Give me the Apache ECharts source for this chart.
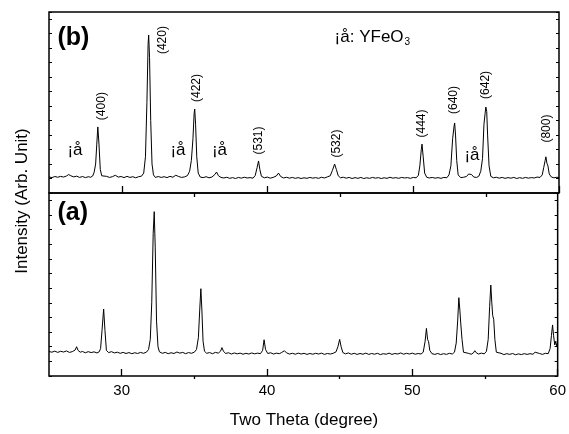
<!DOCTYPE html>
<html>
<head>
<meta charset="utf-8">
<script src="https://cdn.jsdelivr.net/npm/echarts@6/dist/echarts.min.js"></script>
<style>html,body{margin:0;padding:0;background:#fff}#c{width:569px;height:434px}</style>
</head>
<body>
<div id="c"></div>
<script>
// Panel (b): [2theta, intensity]
const patternB = [[25.0,8.9],[25.2,8.5],[25.4,9.1],[25.6,8.7],[25.8,9.2],[26.0,8.8],[26.2,9.4],[26.35,10.2],[26.5,9.5],[26.7,8.9],[26.9,9.3],[27.1,8.6],[27.3,9.1],[27.5,8.5],[27.7,9.0],[27.85,8.7],[28.0,9.4],[28.1,11.5],[28.2,16],[28.28,27],[28.35,36.5],[28.43,27],[28.52,13],[28.62,9.5],[28.75,8.6],[28.95,9.2],[29.15,8.6],[29.35,9.0],[29.55,9.8],[29.75,8.8],[29.95,9.1],[30.15,8.5],[30.35,9.2],[30.55,8.6],[30.75,9.0],[30.95,8.4],[31.15,9.0],[31.35,9.3],[31.5,11],[31.62,20],[31.72,50],[31.8,82],[31.84,87.3],[31.9,75],[31.98,40],[32.07,16],[32.17,10],[32.3,8.6],[32.5,9.1],[32.7,8.6],[32.9,9.0],[33.1,8.5],[33.3,9.2],[33.5,8.7],[33.7,9.8],[33.9,9.1],[34.1,8.6],[34.3,8.9],[34.5,9.6],[34.65,12],[34.77,18],[34.88,30],[34.96,44],[35.0,46.4],[35.06,38],[35.14,20],[35.24,11],[35.38,8.8],[35.58,8.5],[35.78,9.0],[35.98,8.4],[36.18,8.8],[36.38,10.2],[36.5,11.6],[36.62,9.6],[36.8,8.6],[37.0,8.3],[37.2,8.7],[37.4,8.1],[37.6,8.5],[37.8,8.0],[38.0,8.6],[38.2,8.2],[38.4,8.7],[38.6,8.3],[38.8,8.5],[39.0,8.2],[39.15,9.6],[39.28,14],[39.38,17.7],[39.47,13],[39.58,9.2],[39.78,8.4],[39.98,8.8],[40.18,8.2],[40.38,8.6],[40.6,9.4],[40.75,11],[40.9,9.1],[41.1,8.3],[41.3,8.7],[41.5,8.2],[41.7,8.6],[41.9,8.1],[42.1,8.5],[42.3,8.0],[42.5,8.4],[42.7,8.1],[42.9,8.6],[43.1,8.2],[43.3,8.5],[43.5,8.1],[43.7,8.7],[43.9,8.3],[44.1,8.9],[44.3,9.5],[44.45,12.5],[44.6,16],[44.72,13],[44.85,9.5],[45.0,8.4],[45.2,8.7],[45.4,8.2],[45.6,8.6],[45.8,8.0],[46.0,8.5],[46.2,8.1],[46.4,8.6],[46.6,8.0],[46.8,8.4],[47.0,8.1],[47.2,8.6],[47.4,8.2],[47.6,8.5],[47.8,8.0],[48.0,8.4],[48.2,8.1],[48.4,8.7],[48.6,8.2],[48.8,8.5],[49.0,8.1],[49.2,8.6],[49.4,8.3],[49.6,8.5],[49.8,8.1],[50.0,8.6],[50.2,8.4],[50.35,9.8],[50.45,15],[50.55,24],[50.6,27],[50.68,20],[50.78,11],[50.92,8.7],[51.1,8.3],[51.3,8.6],[51.5,8.2],[51.7,8.5],[51.9,8.1],[52.1,8.6],[52.3,8.4],[52.45,10],[52.58,15],[52.7,30],[52.8,37],[52.84,38.7],[52.9,32],[52.98,18],[53.08,10],[53.25,8.5],[53.45,8.7],[53.65,9.1],[53.8,10.5],[53.9,11],[54.0,10.2],[54.15,8.8],[54.35,8.6],[54.5,9.3],[54.63,12],[54.75,19],[54.85,38],[54.93,44],[54.98,47.5],[55.04,45],[55.1,32],[55.2,15],[55.32,9.2],[55.5,8.4],[55.7,8.7],[55.9,8.2],[56.1,8.6],[56.3,8.1],[56.5,8.5],[56.7,8.2],[56.9,8.6],[57.1,8.0],[57.3,8.5],[57.5,8.1],[57.7,8.6],[57.9,8.2],[58.1,8.5],[58.3,8.3],[58.5,8.8],[58.7,8.6],[58.85,10],[58.95,14],[59.05,18],[59.1,20],[59.17,16.5],[59.24,15],[59.33,10.5],[59.48,8.8],[59.65,8.4],[59.85,8.7],[60.0,8.5]];

// Panel (a): [2theta, intensity]
const patternA = [[25.0,13.4],[25.2,13.0],[25.4,13.6],[25.6,12.9],[25.8,13.5],[26.0,13.1],[26.2,13.7],[26.4,12.9],[26.6,13.3],[26.8,14.2],[26.9,16.0],[27.0,14.0],[27.15,13.0],[27.3,13.4],[27.5,12.7],[27.7,13.3],[27.9,12.8],[28.1,13.2],[28.3,12.6],[28.45,13.2],[28.55,15],[28.65,25],[28.76,36.6],[28.85,25],[28.95,14],[29.1,12.8],[29.3,13.3],[29.5,12.6],[29.7,13.0],[29.9,12.4],[30.1,12.9],[30.3,12.3],[30.5,12.8],[30.7,12.2],[30.9,12.7],[31.1,12.3],[31.3,12.9],[31.5,12.4],[31.7,13.0],[31.85,14.5],[31.97,20],[32.07,40],[32.17,78],[32.24,89.8],[32.31,70],[32.4,30],[32.5,16],[32.6,13.2],[32.8,12.4],[33.0,12.9],[33.2,12.2],[33.4,12.7],[33.6,12.3],[33.8,13.1],[34.0,12.5],[34.2,12.9],[34.4,12.2],[34.6,12.8],[34.8,12.4],[35.0,13.0],[35.15,14.5],[35.28,21],[35.37,36],[35.45,47.7],[35.52,36],[35.6,19],[35.7,13.5],[35.85,12.4],[36.05,12.8],[36.25,12.2],[36.45,12.9],[36.65,12.5],[36.8,13.5],[36.9,15.5],[37.0,13.6],[37.15,12.3],[37.35,12.7],[37.55,12.0],[37.75,12.6],[37.95,12.1],[38.15,12.5],[38.35,11.9],[38.55,12.4],[38.75,12.0],[38.95,12.6],[39.15,12.1],[39.35,12.5],[39.55,12.2],[39.7,14],[39.8,19.8],[39.9,14.5],[40.05,12.3],[40.25,12.7],[40.45,12.0],[40.65,12.5],[40.85,12.2],[41.0,12.8],[41.2,13.8],[41.35,12.6],[41.55,12.0],[41.75,12.4],[41.95,11.9],[42.15,12.5],[42.35,12.0],[42.55,12.4],[42.75,11.8],[42.95,12.3],[43.15,11.9],[43.35,12.4],[43.55,12.0],[43.75,12.5],[43.95,11.8],[44.15,12.3],[44.35,12.0],[44.55,12.4],[44.75,13.2],[44.88,16],[45.0,20],[45.1,16],[45.22,12.8],[45.4,12.1],[45.6,12.6],[45.8,11.9],[46.0,12.4],[46.2,11.8],[46.4,12.3],[46.6,11.9],[46.8,12.5],[47.0,11.8],[47.2,12.3],[47.4,11.9],[47.6,12.4],[47.8,11.7],[48.0,12.2],[48.2,11.9],[48.4,12.5],[48.6,11.8],[48.8,12.3],[49.0,12.0],[49.2,12.6],[49.4,11.9],[49.6,12.4],[49.8,12.0],[50.0,12.5],[50.2,11.9],[50.4,12.3],[50.6,12.0],[50.75,13],[50.88,19],[50.97,26],[51.05,20],[51.12,18.7],[51.2,14],[51.35,12.2],[51.55,11.8],[51.75,12.3],[51.95,11.7],[52.15,12.2],[52.35,11.8],[52.55,12.4],[52.75,12.0],[52.9,13],[53.02,18],[53.12,30],[53.2,42.8],[53.27,36],[53.33,29],[53.42,20],[53.52,13],[53.65,12.0],[53.85,12.4],[54.05,11.9],[54.2,12.6],[54.3,13.8],[54.4,12.7],[54.55,12.0],[54.75,12.5],[54.95,12.1],[55.1,13.5],[55.22,20],[55.32,38],[55.4,49.7],[55.47,40],[55.53,33],[55.6,31],[55.68,20],[55.78,13],[55.9,12.0],[56.1,12.4],[56.3,11.7],[56.5,12.2],[56.7,11.8],[56.9,12.3],[57.1,11.6],[57.3,12.1],[57.5,11.7],[57.7,12.2],[57.9,11.8],[58.1,12.2],[58.3,11.9],[58.45,13],[58.55,12.0],[58.75,12.3],[58.95,11.8],[59.15,12.4],[59.35,12.2],[59.48,15],[59.57,22],[59.65,27.9],[59.72,22],[59.8,17],[59.87,19],[59.93,16.5],[60.0,18]];

// Peak index labels in panel (b)
const millerLabels = ['(400)','(420)','(422)','(531)','(532)','(444)','(640)','(642)','(800)'];
const millerTheta  = [28.6, 32.82, 35.12, 39.41, 44.73, 50.57, 52.76, 54.96, 59.18];
const millerLevel  = [48, 84.5, 58, 29, 27.3, 38.4, 51.4, 59.7, 35.6];

// YFeO3 impurity markers in panel (b)
const markerText  = '¡å';
const markerTheta = [26.78, 33.85, 36.7, 54.03];
const markerLevel = [23.5, 23.5, 23.5, 20.7];

// Axis ticks
const xMajorTicks = [30, 40, 50, 60];
const xMinorTicks = [35, 45, 55];

const FONT = '"Liberation Sans", Arial, sans-serif';
const INK = '#000';

const chart = echarts.init(document.getElementById('c'), null, {renderer: 'canvas'});

function xAx(grid, ticks, len, labels) {
  return {
    type: 'value', gridIndex: grid, min: 25, max: 60,
    axisLine: {show: false},
    axisTick: {show: true, inside: true, length: len, customValues: ticks,
      lineStyle: {color: '#000', width: 1.3}},
    axisLabel: labels ? {show: true, customValues: xMajorTicks, margin: 7,
      fontSize: 15, color: INK, fontFamily: FONT} : {show: false},
    splitLine: {show: false}
  };
}
function yAx(grid, pos) {
  return {
    type: 'value', gridIndex: grid, position: pos, min: 0, max: 100, interval: 8,
    axisLine: {show: false},
    axisTick: {show: true, inside: true, length: 3, lineStyle: {color: '#000', width: 1}},
    axisLabel: {show: false},
    splitLine: {show: false}
  };
}
function textLabel(extra) {
  return Object.assign({show: true, position: 'inside', formatter: p => p.name,
    color: INK, fontFamily: FONT, textBorderWidth: 0, textShadowBlur: 0, opacity: 1}, extra);
}

const millerData = millerLabels.map((t, i) => ({name: t, value: [millerTheta[i], millerLevel[i]]}));
const markerData = markerTheta.map((t, i) => ({name: markerText, value: [t, markerLevel[i]]}));

chart.setOption({
  animation: false,
  backgroundColor: '#fff',
  grid: [
    {left: 49, right: 10, top: 12, height: 181, show: true, borderColor: '#000', borderWidth: 1.5, backgroundColor: 'transparent'},
    {left: 49, right: 10, top: 193, height: 183, show: true, borderColor: '#000', borderWidth: 1.5, backgroundColor: 'transparent'}
  ],
  xAxis: [
    xAx(0, xMajorTicks, 7, false),
    xAx(0, xMinorTicks, 4, false),
    xAx(1, xMajorTicks, 7, true),
    xAx(1, xMinorTicks, 3, false)
  ],
  yAxis: [yAx(0, 'left'), yAx(0, 'right'), yAx(1, 'left'), yAx(1, 'right')],
  graphic: [
    {type: 'text', x: 304, y: 420, style: {text: 'Two Theta (degree)', fontSize: 17, fontFamily: FONT,
      fill: INK, textAlign: 'center', textVerticalAlign: 'middle'}},
    {type: 'text', x: 22, y: 201, rotation: Math.PI / 2, style: {text: 'Intensity (Arb. Unit)', fontSize: 17,
      fontFamily: FONT, fill: INK, textAlign: 'center', textVerticalAlign: 'middle'}}
  ],
  series: [
    {type: 'line', xAxisIndex: 0, yAxisIndex: 0, data: patternB, showSymbol: false, symbol: 'none',
      lineStyle: {color: '#000', width: 1}, silent: true},
    {type: 'line', xAxisIndex: 2, yAxisIndex: 2, data: patternA, showSymbol: false, symbol: 'none',
      lineStyle: {color: '#000', width: 1}, silent: true},
    {type: 'scatter', xAxisIndex: 0, yAxisIndex: 0, data: millerData, symbolSize: 0, silent: true,
      label: textLabel({rotate: 90, fontSize: 12})},
    {type: 'scatter', xAxisIndex: 0, yAxisIndex: 0, data: markerData, symbolSize: 0, silent: true,
      label: textLabel({fontSize: 17})},
    {type: 'scatter', xAxisIndex: 0, yAxisIndex: 0, data: [{name: 'legend', value: [44.6, 86]}], symbolSize: 0, silent: true,
      label: textLabel({align: 'left',
        formatter: '{m|' + markerText + ': YFeO}{s|3}',
        rich: {m: {fontSize: 17, color: INK, fontFamily: FONT, textBorderWidth: 0},
               s: {fontSize: 10, color: INK, fontFamily: FONT, textBorderWidth: 0, padding: [10, 0, 0, 1]}}})},
    {type: 'scatter', xAxisIndex: 0, yAxisIndex: 0, data: [{name: '(b)', value: [25.58, 85.6]}], symbolSize: 0, silent: true,
      label: textLabel({align: 'left', fontSize: 25, fontWeight: 'bold'})},
    {type: 'scatter', xAxisIndex: 2, yAxisIndex: 2, data: [{name: '(a)', value: [25.58, 88.8]}], symbolSize: 0, silent: true,
      label: textLabel({align: 'left', fontSize: 25, fontWeight: 'bold'})}
  ]
});
</script>
</body>
</html>
